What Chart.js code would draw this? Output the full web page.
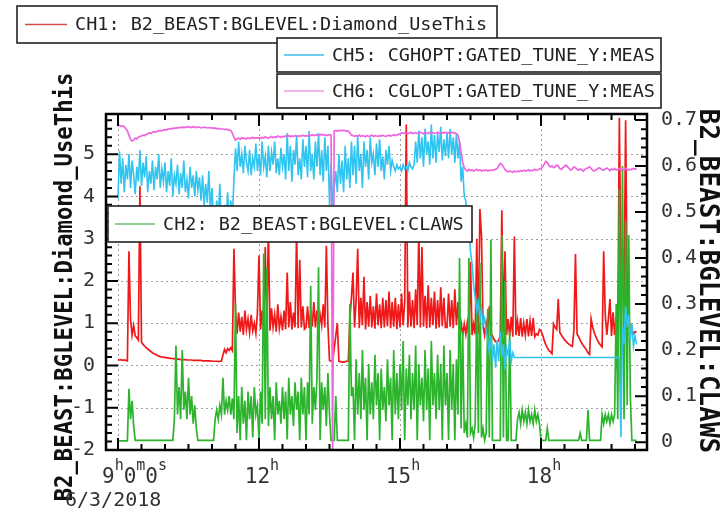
<!DOCTYPE html>
<html><head><meta charset="utf-8">
<script src="https://cdn.jsdelivr.net/npm/chart.js@4.4.1/dist/chart.umd.min.js"></script>
<style>html,body{margin:0;padding:0;background:#fff;}canvas{display:block;}</style>
</head><body>
<canvas id="c" width="722" height="512"></canvas>
<script>
// ---- data (sampled every 2 minutes from 9:00) ----
const START_HOUR = 9;
const STEP_MINUTES = 2;

// CH1 (left axis)
const ch1Values = [
0.14,0.13,0.14,0.12,0.13,0.12,0.11,2.7,1.1,0.72,0.95,0.7,0.66,0.6,4.24,0.55,0.5,0.46,0.42,0.39,0.36,0.33,0.3,0.28,0.26,0.24,0.22,0.21,0.2,0.19,
0.19,0.18,0.18,0.17,0.17,0.16,0.16,0.15,0.15,0.15,0.14,0.14,0.14,0.14,0.13,0.13,0.13,0.13,0.12,0.12,0.12,0.12,0.12,0.12,0.11,0.11,0.11,0.11,0.11,0.11,
0.1,0.1,0.1,0.1,0.09,0.1,0.1,0.25,0.38,0.3,0.4,0.36,0.42,0.35,2.76,1.3,0.75,1.25,0.8,1.15,0.72,1.3,0.85,1.1,0.78,1.2,0.82,1.0,0.76,1.25,
2.6,0.85,1.3,0.8,2.8,0.9,3.24,0.82,1.35,0.9,1.2,0.8,1.45,0.88,1.15,0.83,1.3,0.86,2.2,0.9,1.5,0.85,1.25,0.9,3.17,0.88,2.5,0.9,1.4,0.86,
0.9,1.4,0.88,1.25,0.92,1.5,0.9,1.3,0.87,1.2,0.95,1.45,0.9,2.83,0.95,0.12,0.1,0.1,0.4,0.7,1.0,0.1,0.09,0.08,0.08,0.09,0.1,0.1,1.1,1.6,
2.2,0.9,1.55,2.76,0.88,1.6,0.95,2.1,0.85,1.5,0.92,1.65,0.9,1.4,0.87,1.7,0.95,1.45,0.88,1.6,0.9,1.55,0.93,1.75,0.88,1.5,0.92,1.6,0.86,1.45,
0.9,1.7,0.95,1.5,5.7,0.9,1.75,0.92,1.55,0.88,1.8,0.95,3.17,0.9,2.8,0.92,1.65,0.88,1.9,0.9,1.6,0.95,1.75,0.87,1.55,0.9,1.85,0.93,1.6,0.9,
0.9,1.7,0.92,1.55,0.88,1.8,0.95,1.5,0.75,1.0,0.72,0.98,0.74,1.02,0.7,2.45,0.72,0.98,0.74,3.0,0.75,3.7,3.07,0.95,0.72,1.0,0.75,1.4,0.78,0.7,
0.62,0.56,0.55,0.6,0.7,3.67,0.8,2.7,0.72,1.1,0.7,1.15,0.68,3.05,0.72,1.05,0.7,1.12,0.68,1.0,0.72,1.1,0.69,1.05,0.7,1.12,0.68,0.75,0.72,0.85,
0.82,0.72,0.6,0.5,0.42,0.36,0.32,0.28,0.98,0.9,0.85,1.57,0.78,0.72,0.66,0.61,0.57,0.53,0.5,0.47,0.45,0.83,2.64,0.75,0.68,0.6,0.53,0.47,0.42,0.37,
0.3,0.26,1.1,0.9,0.78,0.68,0.6,0.53,0.48,0.44,2.7,1.2,0.72,1.1,1.57,0.7,1.26,0.72,1.15,0.7,5.86,2.1,2.76,1.5,5.8,1.8,1.2,0.8,0.85,0.75,
0.8,0.78];

// CH2 (right axis)
const ch2Values = [
0.003,0.003,0.003,0.003,0.003,0.003,0.003,0.116,0.05,0.09,0.035,0.004,0.004,0.004,0.004,0.004,0.004,0.004,0.004,0.004,0.004,0.004,0.004,0.004,0.004,0.004,0.004,0.004,0.004,0.004,
0.004,0.004,0.004,0.004,0.004,0.004,0.05,0.21,0.06,0.12,0.05,0.2,0.07,0.11,0.05,0.14,0.06,0.1,0.04,0.08,0.03,0.004,0.004,0.004,0.004,0.004,0.004,0.004,0.004,0.004,
0.004,0.004,0.05,0.07,0.05,0.08,0.06,0.14,0.06,0.09,0.07,0.1,0.06,0.095,0.05,0.3,0.02,0.1,0.004,0.12,0.04,0.09,0.004,0.11,0.05,0.1,0.01,0.12,0.06,0.08,
0.004,0.11,0.04,0.41,0.05,0.38,0.035,0.12,0.05,0.1,0.004,0.13,0.06,0.09,0.04,0.12,0.05,0.11,0.006,0.14,0.06,0.1,0.035,0.13,0.07,0.11,0.004,0.14,0.06,0.12,
0.004,0.13,0.06,0.34,0.04,0.12,0.07,0.14,0.38,0.004,0.13,0.07,0.12,0.035,0.15,0.06,0.004,0.004,0.004,0.1,0.004,0.004,0.004,0.004,0.004,0.004,0.004,0.004,0.3,0.1,
0.12,0.004,0.18,0.06,0.15,0.05,0.2,0.07,0.14,0.004,0.17,0.06,0.13,0.05,0.19,0.08,0.15,0.004,0.16,0.07,0.12,0.045,0.18,0.08,0.14,0.004,0.2,0.06,0.15,0.05,
0.17,0.07,0.22,0.004,0.16,0.08,0.19,0.05,0.15,0.07,0.21,0.004,0.17,0.08,0.14,0.045,0.2,0.07,0.16,0.004,0.22,0.08,0.15,0.05,0.19,0.07,0.17,0.004,0.21,0.08,
0.15,0.005,0.2,0.07,0.17,0.004,0.18,0.06,0.4,0.03,0.24,0.02,0.04,0.01,0.4,0.02,0.03,0.01,0.04,0.31,0.02,0.39,0.01,0.03,0.004,0.02,0.29,0.01,0.44,0.004,
0.004,0.004,0.004,0.004,0.004,0.45,0.01,0.35,0.004,0.004,0.24,0.004,0.004,0.004,0.004,0.05,0.065,0.04,0.07,0.045,0.065,0.04,0.07,0.045,0.06,0.04,0.07,0.045,0.06,0.04,
0.004,0.004,0.004,0.004,0.03,0.004,0.004,0.004,0.004,0.004,0.004,0.004,0.004,0.004,0.004,0.004,0.004,0.004,0.004,0.004,0.004,0.004,0.004,0.004,0.004,0.02,0.004,0.004,0.004,0.004,
0.07,0.004,0.004,0.004,0.004,0.004,0.004,0.004,0.004,0.06,0.04,0.06,0.045,0.06,0.04,0.06,0.045,0.06,0.3,0.05,0.55,0.1,0.6,0.05,0.48,0.08,0.45,0.1,0.004,0.004,
0.004,0.004];

// CH5 (drawn against left axis)
const ch5Values = [
3.95,5.07,4.3,4.9,4.1,4.75,4.4,5.0,4.2,4.85,4.5,4.05,4.7,4.35,5.1,4.25,4.8,4.45,4.95,4.1,4.6,4.3,4.85,4.15,4.7,4.4,5.0,4.2,4.65,4.35,
4.8,4.1,4.6,4.25,4.9,4.0,4.5,4.3,4.75,4.05,4.55,4.2,4.85,4.1,4.4,3.95,4.7,4.2,4.5,4.0,4.6,4.15,4.45,3.9,4.5,3.8,4.3,3.85,4.6,3.7,
4.2,3.4,3.05,3.9,3.5,4.3,3.3,3.05,3.8,3.4,4.1,3.3,3.9,3.5,4.4,5.14,4.6,5.3,4.7,5.0,4.55,5.2,4.8,4.6,5.1,4.5,4.9,4.7,5.25,4.6,
5.0,4.5,5.3,4.7,4.95,4.45,5.2,4.6,5.05,4.75,5.3,4.55,4.9,4.5,5.15,4.7,5.0,4.4,5.5,4.6,5.2,4.35,5.1,4.75,5.45,4.5,4.9,4.4,5.35,4.7,
5.2,4.45,5.55,4.6,5.0,4.4,5.3,4.7,5.5,4.5,5.1,4.35,5.4,4.6,5.2,3.8,4.8,3.8,4.2,4.6,4.1,5.0,4.3,4.85,4.1,5.2,4.4,4.9,4.2,5.3,
4.5,5.2,4.3,5.45,4.6,5.0,4.2,5.3,4.7,5.1,4.4,5.4,4.8,5.0,4.5,5.25,4.7,5.35,4.6,4.95,4.4,5.1,4.75,5.2,4.6,4.85,4.7,4.6,4.75,4.65,
4.7,4.6,4.75,4.65,4.7,4.6,4.8,4.7,4.65,4.75,5.3,4.8,5.55,4.9,5.4,4.7,5.6,5.0,5.3,4.75,5.7,4.9,5.45,4.8,5.5,5.05,5.65,4.85,5.35,4.95,
5.5,4.9,5.6,5.0,5.4,4.8,5.5,4.9,5.3,4.35,4.7,4.0,3.9,3.4,3.2,2.7,2.4,1.9,1.6,1.3,1.5,1.1,1.35,0.95,1.1,0.8,0.6,0.3,0.7,0.1,
0.5,-0.05,0.6,0.1,0.8,0.2,0.5,-0.1,0.4,0.25,0.6,0.1,0.3,0.19,0.19,0.19,0.19,0.19,0.19,0.19,0.19,0.19,0.19,0.19,0.19,0.19,0.19,0.19,0.19,0.19,
0.19,0.19,0.19,0.19,0.19,0.19,0.19,0.19,0.19,0.19,0.19,0.19,0.19,0.19,0.19,0.19,0.19,0.19,0.19,0.19,0.19,0.19,0.19,0.19,0.19,0.19,0.19,0.19,0.19,0.19,
0.19,0.19,0.19,0.19,0.19,0.19,0.19,0.19,0.19,0.19,0.19,0.19,0.19,0.19,0.19,0.19,0.19,0.19,0.19,0.19,0.19,-1.7,0.9,0.5,1.4,0.9,1.2,0.6,1.0,0.45,
0.7,0.5];

// CH6 (drawn against left axis)
const ch6Values = [
5.67,5.68,5.66,5.67,5.65,5.6,5.55,5.45,5.35,5.31,5.33,5.38,5.36,5.4,5.42,5.43,5.45,5.44,5.47,5.48,5.5,5.49,5.52,5.53,5.52,5.54,5.55,5.56,5.55,5.57,
5.58,5.57,5.6,5.59,5.61,5.6,5.62,5.61,5.63,5.62,5.64,5.63,5.64,5.63,5.65,5.64,5.64,5.63,5.65,5.64,5.63,5.64,5.64,5.62,5.63,5.64,5.63,5.62,5.63,5.62,
5.62,5.61,5.62,5.6,5.61,5.6,5.59,5.6,5.58,5.59,5.58,5.57,5.56,5.5,5.4,5.33,5.36,5.38,5.35,5.39,5.37,5.38,5.36,5.39,5.37,5.38,5.4,5.37,5.39,5.38,
5.39,5.37,5.4,5.38,5.41,5.39,5.38,5.4,5.42,5.39,5.41,5.4,5.43,5.41,5.4,5.42,5.41,5.43,5.42,5.44,5.41,5.43,5.42,5.44,5.43,5.42,5.44,5.43,5.45,5.43,
5.44,5.43,5.45,5.44,5.46,5.44,5.45,5.46,5.44,5.45,5.47,5.45,5.46,5.44,5.45,5.46,5.45,-2.05,5.55,5.56,5.54,5.56,5.55,5.57,5.55,5.56,5.54,5.55,5.5,5.45,
5.44,5.42,5.44,5.43,5.45,5.42,5.44,5.43,5.41,5.44,5.42,5.43,5.45,5.42,5.44,5.43,5.42,5.44,5.43,5.45,5.43,5.42,5.44,5.45,5.43,5.44,5.46,5.44,5.45,5.47,
5.48,5.5,5.49,5.51,5.5,5.48,5.5,5.52,5.49,5.5,5.51,5.49,5.5,5.52,5.5,5.48,5.51,5.5,5.49,5.52,5.5,5.51,5.49,5.5,5.52,5.5,5.49,5.51,5.5,5.52,
5.5,5.51,5.49,5.52,5.5,5.51,5.48,5.45,5.3,5.05,4.8,4.68,4.63,4.6,4.64,4.61,4.63,4.6,4.62,4.64,4.61,4.63,4.6,4.62,4.61,4.63,4.6,4.62,4.61,4.63,
4.62,4.64,4.66,4.72,4.78,4.76,4.7,4.64,4.6,4.58,4.6,4.59,4.57,4.6,4.58,4.6,4.59,4.61,4.6,4.62,4.6,4.61,4.63,4.6,4.62,4.61,4.64,4.62,4.63,4.65,
4.66,4.7,4.76,4.83,4.8,4.74,4.7,4.72,4.68,4.7,4.74,4.72,4.66,4.64,4.68,4.72,4.74,4.7,4.66,4.62,4.65,4.7,4.68,4.64,4.62,4.65,4.63,4.6,4.64,4.66,
4.68,4.7,4.66,4.62,4.6,4.63,4.65,4.68,4.66,4.63,4.62,4.65,4.67,4.64,4.61,4.65,4.63,4.66,4.62,4.64,4.66,4.61,4.65,4.63,4.67,4.62,4.64,4.63,4.65,4.66,
4.64,4.66];

const seriesNames = ['CH1: B2_BEAST:BGLEVEL:Diamond_UseThis','CH2: B2_BEAST:BGLEVEL:CLAWS','CH5: CGHOPT:GATED_TUNE_Y:MEAS','CH6: CGLOPT:GATED_TUNE_Y:MEAS'];
const leftAxisTitle = 'B2_BEAST:BGLEVEL:Diamond_UseThis';
const rightAxisTitle = 'B2_BEAST:BGLEVEL:CLAWS';
const xTickHours = [9, 12, 15, 18];
const xTickLabels = ['9h0m0s', '12h', '15h', '18h'];
const dateLabel = '6/3/2018';
const leftRange = [-2, 5.95];
const rightRange = [-0.017, 0.713];
const timeRange = [8.745, 20.255];

// ---- rendering ----
const COLORS = {ch1:'#f01818', ch2:'#2db42d', ch5:'#30c4f0', ch6:'#ee66dd'};
const MONO = '"DejaVu Sans Mono", monospace';
const toPoints = vals => vals.map((v, i) => ({x: START_HOUR + i * STEP_MINUTES / 60, y: v}));
const fmtTick = v => (v < 0 ? '-' : '') + String(Math.round(Math.abs(v) * 1000) / 1000);

const decor = {
  id: 'decor',
  beforeDraw(chart) {
    // axis titles sit underneath the tick labels
    const {ctx} = chart;
    ctx.save();
    ctx.fillStyle = '#111';
    ctx.textAlign = 'center'; ctx.textBaseline = 'middle';
    ctx.save();
    ctx.translate(65, 287); ctx.rotate(-Math.PI / 2); ctx.scale(0.89, 1);
    ctx.font = 'bold 25px ' + MONO;
    ctx.fillText(leftAxisTitle, 0, 0);
    ctx.restore();
    ctx.save();
    ctx.translate(707, 281); ctx.rotate(Math.PI / 2);
    ctx.font = 'bold 26px ' + MONO;
    ctx.fillText(rightAxisTitle, 0, 0);
    ctx.restore();
    ctx.restore();
  },
  beforeDatasetsDraw(chart) {
    const {ctx, chartArea: a, scales} = chart;
    const x = scales.x, y = scales.y;
    ctx.save();
    ctx.strokeStyle = '#a0a0a0'; ctx.lineWidth = 1; ctx.setLineDash([2, 3]);
    ctx.beginPath();
    for (let v = Math.ceil(leftRange[0]) + 1; v <= Math.floor(leftRange[1]); v++) {
      const py = Math.round(y.getPixelForValue(v)) + 0.5;
      ctx.moveTo(a.left, py); ctx.lineTo(a.right, py);
    }
    for (const h of xTickHours) {
      const px = Math.round(x.getPixelForValue(h)) + 0.5;
      ctx.moveTo(px, a.top); ctx.lineTo(px, a.bottom);
    }
    ctx.stroke();
    ctx.restore();
  },
  afterDraw(chart) {
    const {ctx, chartArea: a, scales} = chart;
    const x = scales.x, y = scales.y, y2 = scales.y2;
    ctx.save();
    // ticks (inward)
    ctx.strokeStyle = '#000'; ctx.lineWidth = 2;
    ctx.beginPath();
    for (let k = Math.ceil(leftRange[0] * 5); k <= Math.floor(leftRange[1] * 5); k++) {
      const py = y.getPixelForValue(k / 5); const len = k % 5 === 0 ? 12 : 6;
      ctx.moveTo(a.left, py); ctx.lineTo(a.left + len, py);
    }
    for (let k = 0; k <= 35; k++) {
      const py = y2.getPixelForValue(k * 0.02); const len = k % 5 === 0 ? 12 : 6;
      ctx.moveTo(a.right, py); ctx.lineTo(a.right - len, py);
    }
    for (let k = Math.ceil(timeRange[0] * 2); k <= Math.floor(timeRange[1] * 2); k++) {
      const h = k / 2; const px = x.getPixelForValue(h);
      const len = xTickHours.includes(h) ? 12 : 6;
      ctx.moveTo(px, a.bottom); ctx.lineTo(px, a.bottom - len);
      ctx.moveTo(px, a.top); ctx.lineTo(px, a.top + len);
    }
    ctx.stroke();
    // frame
    ctx.lineWidth = 2.5;
    ctx.strokeRect(a.left, a.top, a.right - a.left, a.bottom - a.top);

    // x tick labels with superscript units
    ctx.fillStyle = '#333'; ctx.textBaseline = 'alphabetic'; ctx.textAlign = 'left';
    const big = '21px ' + MONO, small = '15px ' + MONO;
    xTickHours.forEach((h, idx) => {
      const parts = []; let total = 0;
      for (const ch of xTickLabels[idx]) {
        const sup = /[a-z]/.test(ch);
        ctx.font = sup ? small : big;
        const w = ctx.measureText(ch).width;
        parts.push({ch, sup, w}); total += w;
      }
      const px = x.getPixelForValue(h);
      let cx = idx === 0 ? px - 16 : px + 3 - total / 2;
      for (const p of parts) {
        ctx.font = p.sup ? small : big;
        ctx.fillText(p.ch, cx, p.sup ? 470 : 483);
        cx += p.w;
      }
    });
    ctx.font = '20px ' + MONO;
    ctx.fillText(dateLabel, 65, 506);

    // legend boxes
    const boxes = [
      {name: seriesNames[0], color: '#d24c4c', x0: 17, y0: 6, x1: 497, y1: 43, lx: 25, tx: 75},
      {name: seriesNames[2], color: '#38bde6', x0: 277, y0: 38, x1: 661, y1: 72, lx: 284, tx: 332},
      {name: seriesNames[3], color: '#ee9fdf', x0: 277, y0: 74, x1: 661, y1: 108, lx: 284, tx: 332},
      {name: seriesNames[1], color: '#6cbf6c', x0: 108, y0: 206, x1: 472, y1: 242, lx: 115, tx: 163}
    ];
    for (const b of boxes) {
      ctx.fillStyle = '#fff';
      ctx.fillRect(b.x0, b.y0, b.x1 - b.x0, b.y1 - b.y0);
      ctx.strokeStyle = '#222'; ctx.lineWidth = 1.6;
      ctx.strokeRect(b.x0, b.y0, b.x1 - b.x0, b.y1 - b.y0);
      const cy = (b.y0 + b.y1) / 2;
      ctx.strokeStyle = b.color; ctx.lineWidth = 1.5;
      ctx.beginPath(); ctx.moveTo(b.lx, cy); ctx.lineTo(b.tx - 8, cy); ctx.stroke();
      ctx.fillStyle = '#222'; ctx.font = '18.5px ' + MONO;
      ctx.textAlign = 'left'; ctx.textBaseline = 'middle';
      ctx.fillText(b.name, b.tx, cy + 1);
    }
    ctx.restore();
  }
};

new Chart(document.getElementById('c'), {
  type: 'line',
  data: {
    datasets: [
      {label: seriesNames[3], data: toPoints(ch6Values), yAxisID: 'y', borderColor: COLORS.ch6, borderWidth: 1.7},
      {label: seriesNames[2], data: toPoints(ch5Values), yAxisID: 'y', borderColor: COLORS.ch5, borderWidth: 1.6},
      {label: seriesNames[1], data: toPoints(ch2Values), yAxisID: 'y2', borderColor: COLORS.ch2, borderWidth: 1.7},
      {label: seriesNames[0], data: toPoints(ch1Values), yAxisID: 'y', borderColor: COLORS.ch1, borderWidth: 1.7}
    ]
  },
  options: {
    responsive: false,
    animation: false,
    events: [],
    locale: 'en-US',
    layout: {padding: {top: 114, bottom: 62, left: 0, right: 0}},
    elements: {point: {radius: 0}, line: {tension: 0, fill: false}},
    plugins: {legend: {display: false}, tooltip: {enabled: false}},
    scales: {
      x: {type: 'linear', min: timeRange[0], max: timeRange[1], display: false},
      y: {
        position: 'left', min: leftRange[0], max: leftRange[1],
        grid: {display: false}, border: {display: false},
        ticks: {stepSize: 1, includeBounds: false, padding: 3, color: '#333', font: {family: MONO, size: 20}, callback: fmtTick},
        afterFit: s => { s.width = 106; }
      },
      y2: {
        position: 'right', min: rightRange[0], max: rightRange[1],
        grid: {display: false}, border: {display: false},
        ticks: {stepSize: 0.1, includeBounds: false, padding: 6, color: '#333', font: {family: MONO, size: 20}, callback: fmtTick},
        afterFit: s => { s.width = 75; }
      }
    }
  },
  plugins: [decor]
});
</script>
</body></html>
